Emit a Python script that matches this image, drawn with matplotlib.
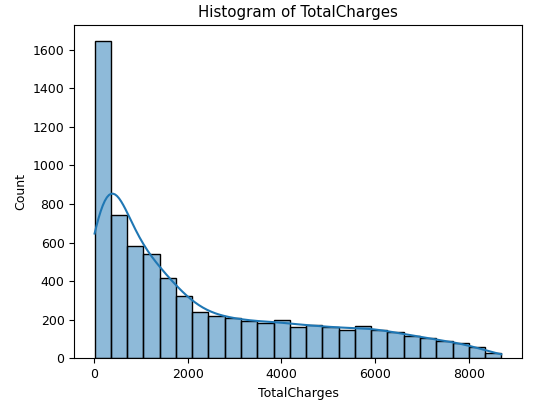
import numpy as np
import pandas as pd
import matplotlib
matplotlib.use("Agg")
import matplotlib.pyplot as plt
import seaborn as sns

# Bin counts (25 bins)
bin_start = 18.8
bin_end = 8684.8
n_bins = 25
counts = [1645, 741, 583, 540, 415, 325, 242, 220, 208, 194,
          183, 199, 164, 173, 164, 147, 168, 147, 135, 117,
          104, 90, 81, 57, 29]

edges = np.linspace(bin_start, bin_end, n_bins + 1)
centers = (edges[:-1] + edges[1:]) / 2
df = pd.DataFrame({"TotalCharges": centers, "n": counts})

# weighted KDE uses the effective sample size for Scott's rule;
# rescale so the bandwidth matches one made from all the raw rows
w = np.array(counts, dtype=float)
n_eff = w.sum() ** 2 / (w ** 2).sum()
bw = (w.sum() / n_eff) ** -0.2

fig = plt.figure(figsize=(5.5, 4.01), dpi=100)
ax = fig.add_subplot(111)
fig.subplots_adjust(left=0.135, right=0.9485, top=0.9377, bottom=0.1065)

sns.histplot(data=df, x="TotalCharges", weights="n", bins=n_bins,
             binrange=(bin_start, bin_end), kde=True,
             kde_kws={"bw_adjust": bw, "cut": 3,
                      "clip": (bin_start, bin_end)}, ax=ax)

ax.set_title("Histogram of TotalCharges", fontsize=10.8)
ax.set_xlabel("TotalCharges", fontsize=9)
ax.set_ylabel("Count", fontsize=9)
ax.tick_params(labelsize=9)
ax.set_yticks(np.arange(0, 1601, 200))
ax.set_xticks(np.arange(0, 8001, 2000))

plt.savefig("out.png", dpi=100)
